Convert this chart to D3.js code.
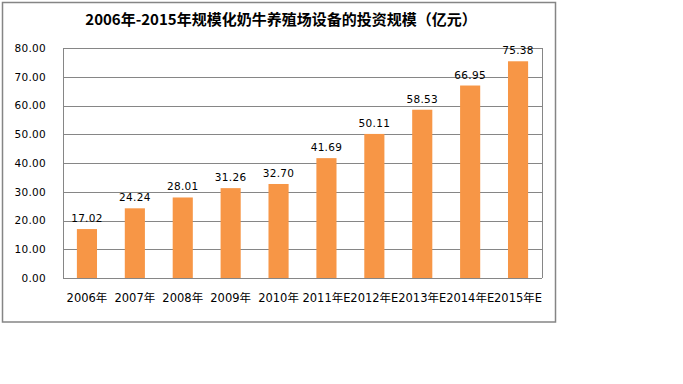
<!DOCTYPE html>
<html><head><meta charset="utf-8">
<script src="https://cdn.jsdelivr.net/npm/d3@7"></script>
<style>body{margin:0;background:#fff}svg{display:block}</style>
</head><body>
<script>
const categories = ["2006年","2007年","2008年","2009年","2010年","2011年E","2012年E","2013年E","2014年E","2015年E"];
const values = [17.02,24.24,28.01,31.26,32.70,41.69,50.11,58.53,66.95,75.38];
const yTicks = [0,10,20,30,40,50,60,70,80];
const title = "2006年-2015年规模化奶牛养殖场设备的投资规模（亿元）";

const W=683,H=384;
const svg=d3.select("body").append("svg").attr("width",W).attr("height",H);
svg.append("rect").attr("x",2.5).attr("y",2.5).attr("width",553).attr("height",319.5)
  .attr("fill","#fff").attr("stroke","#858585").attr("stroke-width",1.5);

svg.append("text").attr("x",281).attr("y",25).attr("text-anchor","middle")
  .attr("font-family","'Noto Sans CJK SC', sans-serif").attr("font-weight","bold")
  .attr("font-size",15).attr("fill","#000").text(title);

const m={l:63,r:542,t:48,b:278};
const x=d3.scaleBand().domain(categories).range([m.l,m.r]).paddingInner(0.58).paddingOuter(0.29);
const y=d3.scaleLinear().domain([0,80]).range([m.b,m.t]);

const g=svg.append("g");
g.selectAll("line.grid").data(yTicks).join("line")
  .attr("x1",m.l).attr("x2",m.r).attr("y1",d=>Math.round(y(d))+0.5).attr("y2",d=>Math.round(y(d))+0.5)
  .attr("stroke","#868686").attr("stroke-width",1);
g.append("line").attr("x1",m.l+0.5).attr("x2",m.l+0.5).attr("y1",m.t).attr("y2",m.b).attr("stroke","#868686");
g.append("line").attr("x1",m.r+0.5).attr("x2",m.r+0.5).attr("y1",m.t).attr("y2",m.b).attr("stroke","#868686");

const yAxis=d3.axisLeft(y).tickValues(yTicks).tickFormat(d3.format(".2f")).tickSize(0).tickPadding(17);
const ya=svg.append("g").attr("transform",`translate(${m.l},0)`).call(yAxis);
ya.select(".domain").remove();
ya.selectAll("text").attr("font-family","'DejaVu Sans', sans-serif").attr("font-size",10.5)
  .attr("letter-spacing",0.3).attr("fill","#000");

g.selectAll("rect.bar").data(values).join("rect")
  .attr("x",(d,i)=>x(categories[i])).attr("width",x.bandwidth())
  .attr("y",d=>y(d)).attr("height",d=>y(0)-y(d)).attr("fill","#F79646");

g.selectAll("text.val").data(values).join("text")
  .attr("x",(d,i)=>x(categories[i])+x.bandwidth()/2).attr("y",d=>y(d)-7)
  .attr("text-anchor","middle").attr("font-family","'DejaVu Sans', sans-serif")
  .attr("font-size",10.5).attr("letter-spacing",0.3).attr("fill","#000").text(d=>d.toFixed(2));

const xAxis=d3.axisBottom(x).tickSize(0).tickPadding(16);
const xa=svg.append("g").attr("transform",`translate(0,${m.b})`).call(xAxis);
xa.select(".domain").remove();
xa.selectAll("text").attr("font-family","'DejaVu Sans', 'Noto Sans CJK SC', sans-serif").attr("font-size",11.5).attr("fill","#000");
</script>
</body></html>
